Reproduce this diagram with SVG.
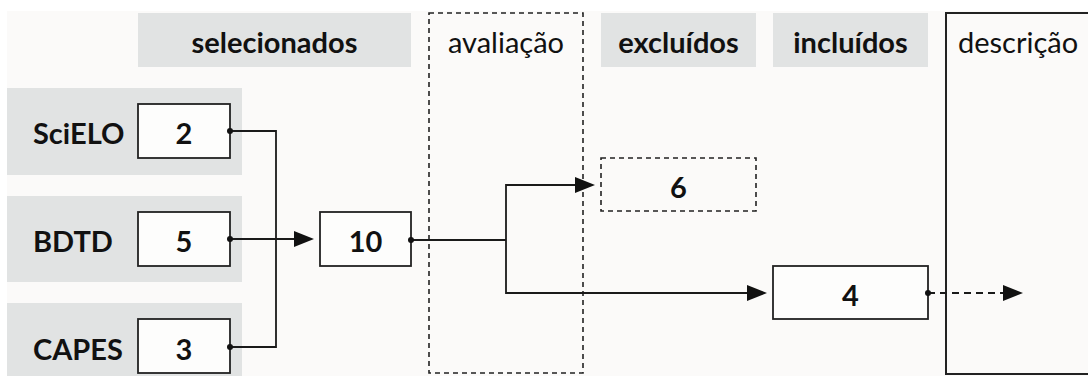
<svg xmlns="http://www.w3.org/2000/svg" width="1088" height="376" viewBox="0 0 1088 376">
<defs>
<style>
.bg{fill:#fbfaf9}
.band{fill:#e1e3e3}
.box{fill:#fdfdfc;stroke:#222;stroke-width:1.8}
.dbox{fill:none;stroke:#222;stroke-width:1.6;stroke-dasharray:5 4}
.lbl{font-family:Lato,"Open Sans","Liberation Sans",sans-serif;font-size:29px;font-weight:bold;fill:#111}
.hdr{font-family:Lato,"Open Sans","Liberation Sans",sans-serif;font-size:29px;fill:#111}
.c{text-anchor:middle}
.ln{fill:none;stroke:#1a1a1a;stroke-width:1.8}
.dash{stroke-dasharray:7 5}
.dot{fill:#111}
</style>
<marker id="arr" viewBox="0 0 20 16" refX="0" refY="8" markerWidth="20" markerHeight="16" markerUnits="userSpaceOnUse" orient="auto">
<path d="M0,0 L20,8 L0,16 z" fill="#111"/>
</marker>
</defs>
<rect class="bg" x="7" y="11" width="1081" height="365"/>

<g id="hdr-selecionados">
<rect class="band" x="138" y="13" width="273" height="54"/>
<text class="lbl c" x="274.5" y="53">selecionados</text>
</g>
<g id="hdr-avaliacao">
<rect class="dbox" x="429" y="13" width="154" height="360"/>
<text class="hdr c" x="506" y="53">avaliação</text>
</g>
<g id="hdr-excluidos">
<rect class="band" x="601" y="13" width="155" height="54"/>
<text class="lbl c" x="678.5" y="53">excluídos</text>
</g>
<g id="hdr-incluidos">
<rect class="band" x="773" y="13" width="155" height="54"/>
<text class="lbl c" x="850.5" y="53">incluídos</text>
</g>
<g id="hdr-descricao">
<rect x="946" y="13" width="160" height="361" fill="none" stroke="#222" stroke-width="2"/>
<text class="hdr" x="958" y="53">descrição</text>
</g>

<g id="src-scielo">
<rect class="band" x="7" y="88" width="235" height="87"/>
<text class="lbl" x="33" y="144">SciELO</text>
<rect class="box" x="138" y="104" width="92" height="54"/>
<text class="lbl c" x="184" y="144">2</text>
</g>
<g id="src-bdtd">
<rect class="band" x="7" y="196" width="235" height="86"/>
<text class="lbl" x="33" y="252">BDTD</text>
<rect class="box" x="138" y="212" width="92" height="54"/>
<text class="lbl c" x="184" y="252">5</text>
</g>
<g id="src-capes">
<rect class="band" x="7" y="303" width="235" height="90"/>
<text class="lbl" x="33" y="360">CAPES</text>
<rect class="box" x="138" y="319" width="92" height="54"/>
<text class="lbl c" x="184" y="360">3</text>
</g>

<g id="total">
<rect class="box" x="320" y="212" width="91" height="54"/>
<text class="lbl c" x="365.5" y="252">10</text>
</g>
<g id="excluded">
<rect class="dbox" x="601" y="158" width="155" height="53"/>
<text class="lbl c" x="678.5" y="198">6</text>
</g>
<g id="included">
<rect class="box" x="773" y="266" width="155" height="53"/>
<text class="lbl c" x="850.5" y="306">4</text>
</g>

<g id="connectors">
<path class="ln" d="M230,131 H276 V347 H230"/>
<path class="ln" d="M230,239 H294" marker-end="url(#arr)"/>
<path class="ln" d="M411,240 H506"/>
<path class="ln" d="M575,185 H506 V293 H747" marker-end="url(#arr)"/>
<path class="ln" d="M506,185 H575" marker-end="url(#arr)"/>
<path class="ln dash" d="M928,293 H1003" marker-end="url(#arr)"/>
<circle class="dot" cx="230" cy="131" r="3"/>
<circle class="dot" cx="230" cy="239" r="3"/>
<circle class="dot" cx="230" cy="347" r="3"/>
<circle class="dot" cx="411" cy="240" r="3"/>
<circle class="dot" cx="928" cy="293" r="3"/>
</g>
</svg>
